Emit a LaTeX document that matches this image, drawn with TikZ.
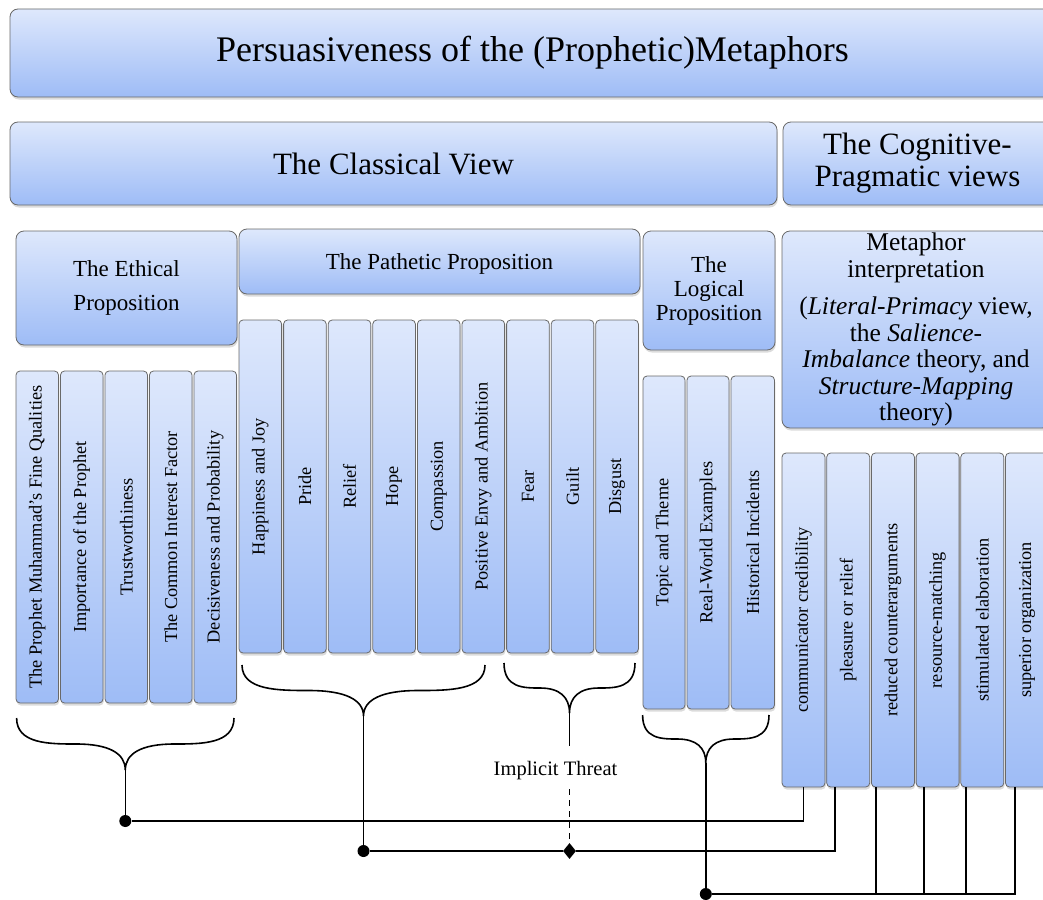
\documentclass[tikz,border=0pt]{standalone}
\usepackage{fontspec}
\setmainfont{Liberation Serif}
\usetikzlibrary{shadows,calc,shapes.geometric}
\definecolor{gtop}{RGB}{222,232,252}
\definecolor{gbot}{RGB}{158,188,246}
\definecolor{edgegray}{RGB}{105,105,105}
\tikzset{
  pbox/.style={draw=edgegray, line width=0.8pt, rounded corners=8pt,
    top color=gtop, bottom color=gbot, inner sep=0pt, outer sep=0pt, align=center,
    drop shadow={shadow xshift=0.8pt, shadow yshift=-2.5pt, opacity=0.28}},
  colbox/.style={pbox, rounded corners=4pt, font=\fontsize{18.3}{20}\selectfont},
  conn/.style={line width=1.6pt},
  thinconn/.style={line width=1.3pt},
  jdot/.style={circle, fill=black, inner sep=0pt, minimum size=12pt},
  jdia/.style={diamond, fill=black, inner sep=0pt, minimum width=13pt, minimum height=16pt},
  bracestyle/.style={line width=1.6pt},
}
% name, x1, y1, x2, y2, text
\newcommand\pbx[7][]{%
  \node[pbox,#1,minimum width={(#5-#3)*1pt},minimum height={(#6-#4)*1pt}] (#2)
    at ({(#3+#5)/2},{(#4+#6)/2}) {#7};}
% name, x1, width, y1, y2, text
\newcommand\pcol[6]{%
  \node[colbox,minimum width={(#3)*1pt},minimum height={(#5-#4)*1pt}] (#1)
    at ({#2+(#3)/2},{(#4+#5)/2}) {\rotatebox{90}{#6}};}
% name, x0, x1, ytop, ytip
\newcommand\pbrace[5]{%
  \draw[bracestyle] (#2,#4)
    .. controls (#2,{#4+0.5*(#5-#4)}) and ({#2+0.3*(#3-#2)/2},{#4+0.5*(#5-#4)}) .. ({#2+0.55*(#3-#2)/2},{#4+0.5*(#5-#4)})
    .. controls ({(#2+#3)/2-0.15*(#3-#2)/2},{#4+0.5*(#5-#4)}) and ({(#2+#3)/2},{#4+0.68*(#5-#4)}) .. ({(#2+#3)/2},#5)
    .. controls ({(#2+#3)/2},{#4+0.68*(#5-#4)}) and ({(#2+#3)/2+0.15*(#3-#2)/2},{#4+0.5*(#5-#4)}) .. ({#3-0.55*(#3-#2)/2},{#4+0.5*(#5-#4)})
    .. controls ({#3-0.3*(#3-#2)/2},{#4+0.5*(#5-#4)}) and (#3,{#4+0.5*(#5-#4)}) .. (#3,#4);
  \coordinate (#1) at ({(#2+#3)/2},#5);}
\begin{document}
\begin{tikzpicture}[x=1pt,y=-1pt]
\clip (0,0) rectangle (1043,899);
\fill[white] (0,0) rectangle (1043,899);

% top levels
\pbx[font=\fontsize{36}{40}\selectfont]{title}{10}{9}{1055}{97}{Persuasiveness of the (Prophetic)Metaphors}
\pbx[font=\fontsize{31}{32}\selectfont]{classical}{10}{122}{777}{205}{The Classical View}
\pbx[font=\fontsize{31}{32}\selectfont]{cognitive}{783}{122}{1052}{205}{The Cognitive-\\Pragmatic views}

% propositions
\pbx[font=\fontsize{23}{34}\selectfont]{ethical}{16}{231}{237}{345}{The Ethical\\Proposition}
\pbx[font=\fontsize{23}{26}\selectfont, text depth=0pt]{pathetic}{239}{229}{640}{294}{The Pathetic Proposition}
\pbx[font=\fontsize{23}{24}\selectfont]{logical}{643}{231}{775}{350}{The\\Logical\\Proposition}
\pbx[font=\fontsize{25.5}{26.5}\selectfont]{metaphor}{782}{231}{1050}{428}{Metaphor\\interpretation\\[11pt](\textit{Literal-Primacy} view,\\the \textit{Salience-}\\\textit{Imbalance} theory, and\\\textit{Structure-Mapping}\\theory)}

% ethical columns
\pcol{e1}{16}{42.5}{371}{703}{The Prophet Muhammad’s Fine Qualities}
\pcol{e2}{60.5}{42.5}{371}{703}{Importance of the Prophet}
\pcol{e3}{105}{42.5}{371}{703}{Trustworthiness}
\pcol{e4}{149.5}{42.5}{371}{703}{The Common Interest Factor}
\pcol{e5}{194}{42.5}{371}{703}{Decisiveness and Probability}

% pathetic columns
\pcol{p1}{239}{42.6}{320}{653}{Happiness and Joy}
\pcol{p2}{283.6}{42.6}{320}{653}{Pride}
\pcol{p3}{328.2}{42.6}{320}{653}{Relief}
\pcol{p4}{372.8}{42.6}{320}{653}{Hope}
\pcol{p5}{417.4}{42.6}{320}{653}{Compassion}
\pcol{p6}{462}{42.6}{320}{653}{Positive Envy and Ambition}
\pcol{p7}{506.6}{42.6}{320}{653}{Fear}
\pcol{p8}{551.2}{42.6}{320}{653}{Guilt}
\pcol{p9}{595.8}{42.6}{320}{653}{Disgust}

% logical columns
\pcol{l1}{643}{42}{376}{709}{Topic and Theme}
\pcol{l2}{687}{42}{376}{709}{Real-World Examples}
\pcol{l3}{731}{43.5}{376}{709}{Historical Incidents}

% cognitive columns
\pcol{c1}{782}{43}{453}{787}{communicator credibility}
\pcol{c2}{826.7}{43}{453}{787}{pleasure or relief}
\pcol{c3}{871.4}{43}{453}{787}{reduced counterarguments}
\pcol{c4}{916.1}{43}{453}{787}{resource-matching}
\pcol{c5}{960.8}{43}{453}{787}{stimulated elaboration}
\pcol{c6}{1005.5}{43}{453}{787}{superior organization}

% braces
\pbrace{eb}{16.6}{234}{718}{770}
\pbrace{pb}{242}{485}{665}{716}
\pbrace{fb}{504}{635}{663}{713}
\pbrace{lb}{642.6}{769}{715}{763}

% junctions
\node[jdot] (d1) at (125.3,821) {};
\node[jdot] (d2) at (363.5,851) {};
\node[jdot] (d3) at (705.8,894) {};
\node[jdia] (dm) at (569.5,851) {};

% ethical connector
\draw[conn] (eb) -- (d1);
\draw[conn] (d1) -| (c1.south);
% pathetic connector
\draw[conn] (pb) -- (d2);
\draw[conn] (d2) -- (dm);
\draw[conn] (dm) -| ([xshift=8.3pt]c2.south west);
% implicit threat
\coordinate (fs) at (569.5,746);
\coordinate (fd) at (569.5,789);
\node[font=\fontsize{20.5}{22}\selectfont, anchor=base] (it) at (555.5,775) {Implicit Threat};
\draw[conn] (fb) -- (fs);
\draw[conn, dash pattern=on 6pt off 5pt] (fd) -- (dm);
% logical connector
\draw[conn] (lb) -- (d3);
\draw[conn] (d3) -| ([xshift=9.5pt]c6.south west);
\draw[thinconn] ([xshift=4.6pt]c3.south west) -- ([xshift=4.6pt]c3.south west |- d3);
\draw[thinconn] ([xshift=7.9pt]c4.south west) -- ([xshift=7.9pt]c4.south west |- d3);
\draw[thinconn] ([xshift=5.2pt]c5.south west) -- ([xshift=5.2pt]c5.south west |- d3);
\end{tikzpicture}
\end{document}
